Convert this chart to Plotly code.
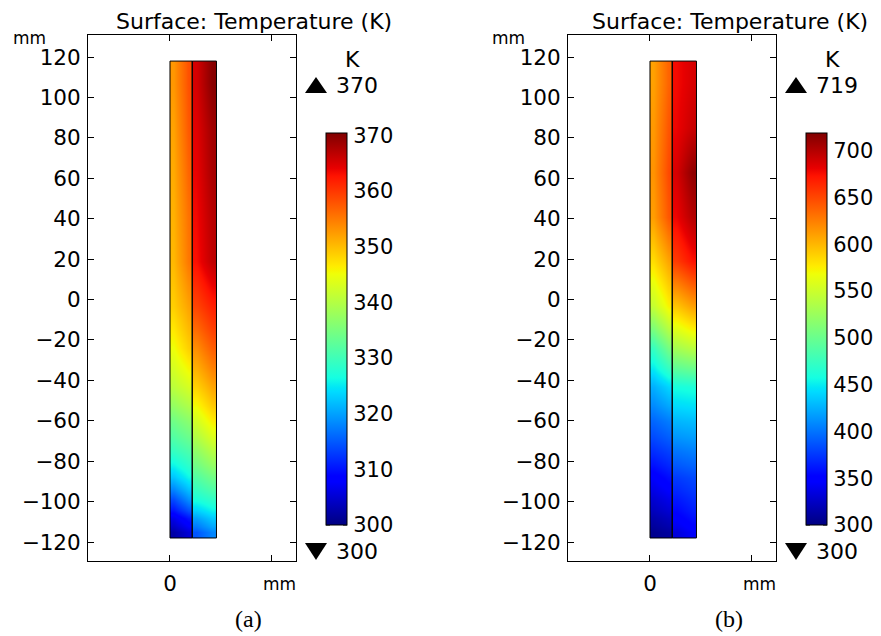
import numpy as np
import plotly.graph_objects as go

# ---------------- data ----------------
# geometry of the two strips (mm)
STRIP_X = [0.0, 11.0, 23.0]
STRIP_Y = [-118.0, 118.0]
# vertical cell edges used for the temperature readings (mm), bottom -> top
Y_EDGES = [-118, -112, -104, -94, -82, -68, -52, -34, -14, 8, 30, 52, 74, 96, 118]

# Panel (a) temperatures (K): rows bottom -> top, 3 readings across each strip
T_A_LEFT = [
    [302.3, 303.8, 305.3],
    [306.4, 308.3, 310.1],
    [313.8, 316.3, 318.8],
    [322.4, 324.2, 325.9],
    [329.0, 330.0, 331.0],
    [334.1, 335.3, 336.4],
    [340.6, 341.8, 342.9],
    [344.9, 346.8, 348.6],
    [348.6, 350.3, 352.0],
    [350.3, 352.8, 355.3],
    [350.8, 353.3, 355.7],
    [351.3, 354.0, 356.7],
    [351.9, 354.8, 357.6],
    [352.8, 355.5, 358.2],
]
T_A_RIGHT = [
    [314.7, 316.4, 318.1],
    [319.8, 321.3, 322.8],
    [326.8, 327.7, 328.6],
    [331.6, 333.0, 334.3],
    [336.8, 338.5, 340.2],
    [342.5, 344.4, 346.3],
    [348.4, 350.0, 351.8],
    [353.4, 355.3, 357.1],
    [359.0, 360.4, 361.8],
    [362.9, 364.8, 366.6],
    [363.4, 365.3, 367.1],
    [364.0, 366.0, 368.0],
    [364.5, 366.5, 368.5],
    [365.2, 367.6, 370.0],
]
# Panel (b)
T_B_LEFT = [
    [305.2, 308.1, 310.9],
    [315.5, 319.2, 322.9],
    [329.3, 333.8, 338.2],
    [346.6, 351.8, 357.0],
    [371.0, 375.0, 379.0],
    [394.3, 399.0, 403.7],
    [424.8, 432.8, 440.7],
    [473.8, 490.3, 506.7],
    [546.8, 560.5, 574.2],
    [582.5, 595.5, 608.5],
    [611.1, 627.3, 643.4],
    [615.9, 632.8, 649.6],
    [613.3, 628.8, 644.2],
    [610.0, 624.0, 638.0],
]
T_B_RIGHT = [
    [333.0, 338.9, 344.8],
    [347.6, 352.7, 357.8],
    [361.1, 365.3, 369.5],
    [376.4, 379.2, 382.0],
    [400.1, 402.3, 404.5],
    [427.2, 428.5, 429.8],
    [458.7, 460.0, 461.3],
    [530.1, 535.2, 540.3],
    [594.1, 602.4, 610.6],
    [654.9, 664.0, 673.0],
    [679.2, 689.5, 699.8],
    [687.5, 700.5, 713.5],
    [679.3, 686.0, 692.7],
    [676.7, 682.0, 687.3],
]

RANGE_A = [300.0, 370.4]
RANGE_B = [300.0, 719.0]
MAX_A, MIN_A = "370", "300"
MAX_B, MIN_B = "719", "300"
CB_TICKS_A = [300, 310, 320, 330, 340, 350, 360, 370]
CB_TICKS_B = [300, 350, 400, 450, 500, 550, 600, 650, 700]
Y_TICKS = [-120, -100, -80, -60, -40, -20, 0, 20, 40, 60, 80, 100, 120]
X_TICKS = [0, 50]
X_TICKTEXT = ["0", ""]
TITLE = "Surface: Temperature (K)"
CAPTIONS = ["(a)", "(b)"]

# ---------------- style ----------------
W, H = 881, 636          # browser window
OFF = 8                   # page body margin
FW, FH = W - OFF, H - OFF  # figure size
FONT = "DejaVu Sans"
TICK_SIZE = 21.5
CB_SIZE = 21

def jet_scale():
    red = [(0, 0), (0.35, 0), (0.66, 1), (0.89, 1), (1, 0.5)]
    green = [(0, 0), (0.125, 0), (0.375, 1), (0.64, 1), (0.91, 0), (1, 0)]
    blue = [(0, 0.5), (0.11, 1), (0.34, 1), (0.65, 0), (1, 0)]
    stops = sorted({p for seg in (red, green, blue) for p, _ in seg})
    out = []
    for s in stops:
        c = [np.interp(s, [p for p, _ in seg], [v for _, v in seg]) for seg in (red, green, blue)]
        out.append([s, "rgb(%d,%d,%d)" % tuple(int(round(255 * v)) for v in c)])
    return out

JET = jet_scale()

def px(x):
    return (x - OFF) / FW

def py(y):
    return 1 - (y - OFF) / FH

fig = go.Figure()

panels = [
    ("x", "y", "coloraxis", T_A_LEFT, T_A_RIGHT),
    ("x2", "y2", "coloraxis2", T_B_LEFT, T_B_RIGHT),
]
for xa, ya, ca, tl, tr in panels:
    for i, z in enumerate((tl, tr)):
        xe = np.linspace(STRIP_X[i], STRIP_X[i + 1], len(z[0]) + 1)
        fig.add_trace(go.Heatmap(
            x=xe, y=Y_EDGES, z=z, zsmooth="best", coloraxis=ca,
            xaxis=xa, yaxis=ya, hoverinfo="skip"))
    for i in range(len(STRIP_X) - 1):
        fig.add_shape(type="rect", xref=xa, yref=ya,
                      x0=STRIP_X[i], x1=STRIP_X[i + 1], y0=STRIP_Y[0], y1=STRIP_Y[1],
                      line=dict(color="black", width=1), fillcolor="rgba(0,0,0,0)")

XR = [-40.57, 62.35]
YR = [-129.4, 130.9]
YDOM = [py(561), py(35)]
CB_TOP, CB_BOT, CB_W = 133, 525, 21

def xaxis(dom, anchor):
    return dict(domain=dom, anchor=anchor, range=XR, tickvals=X_TICKS, ticktext=X_TICKTEXT,
                ticks="inside", ticklen=6, tickcolor="black", showline=True, linecolor="black",
                linewidth=1, mirror="ticks", showgrid=False, zeroline=False,
                tickfont=dict(family=FONT, size=TICK_SIZE, color="black"), ticklabelstandoff=3)

def yaxis(anchor):
    return dict(domain=YDOM, anchor=anchor, range=YR, tickvals=Y_TICKS,
                ticktext=[str(v).replace("-", "\u2212") for v in Y_TICKS],
                ticks="inside", ticklen=6, tickcolor="black", showline=True, linecolor="black",
                linewidth=1, mirror="ticks", showgrid=False, zeroline=False,
                tickfont=dict(family=FONT, size=TICK_SIZE, color="black"), ticklabelstandoff=2)

def cbar(xpix, ticks):
    return dict(x=px(xpix), xanchor="left", xpad=0, ypad=0, y=py((CB_TOP + CB_BOT) / 2), yanchor="middle",
                len=CB_BOT - CB_TOP, lenmode="pixels", thickness=CB_W, thicknessmode="pixels",
                outlinewidth=1, outlinecolor="black", ticks="outside", ticklen=2,
                tickcolor="rgba(0,0,0,0)", tickvals=ticks, ticktext=[str(t) for t in ticks],
                tickfont=dict(family=FONT, size=CB_SIZE, color="black"))

fig.update_layout(
    width=FW, height=FH, margin=dict(l=0, r=0, t=0, b=0, pad=0, autoexpand=False),
    paper_bgcolor="white", plot_bgcolor="white", showlegend=False,
    xaxis=xaxis([px(88), px(296)], "y"),
    yaxis=yaxis("x"),
    xaxis2=xaxis([px(568), px(776)], "y2"),
    yaxis2=yaxis("x2"),
    coloraxis=dict(colorscale=JET, cmin=RANGE_A[0], cmax=RANGE_A[1], colorbar=cbar(326, CB_TICKS_A)),
    coloraxis2=dict(colorscale=JET, cmin=RANGE_B[0], cmax=RANGE_B[1], colorbar=cbar(806, CB_TICKS_B)),
)

# small inside tick marks on both edges of each colour bar
for cbx, ticks, rng in [(326, CB_TICKS_A, RANGE_A), (806, CB_TICKS_B, RANGE_B)]:
    for t in ticks:
        yy = CB_BOT - (t - rng[0]) / (rng[1] - rng[0]) * (CB_BOT - CB_TOP)
        for xa0, xa1 in [(cbx, cbx + 4), (cbx + CB_W - 4, cbx + CB_W)]:
            fig.add_shape(type="line", xref="paper", yref="paper",
                          x0=px(xa0), x1=px(xa1), y0=py(yy), y1=py(yy),
                          line=dict(color="black", width=1))

def ann(text, x, y, size, xanchor="center", family=FONT, yanchor="middle"):
    fig.add_annotation(text=text, x=px(x), y=py(y), xref="paper", yref="paper",
                       xanchor=xanchor, yanchor=yanchor, showarrow=False, borderpad=0,
                       font=dict(family=family, size=size, color="black"))

def tri(x0, x1, y0, y1, up=True):
    if up:
        path = "M %f %f L %f %f L %f %f Z" % (px(x0), py(y1), px(x1), py(y1), px((x0 + x1) / 2), py(y0))
    else:
        path = "M %f %f L %f %f L %f %f Z" % (px(x0), py(y0), px(x1), py(y0), px((x0 + x1) / 2), py(y1))
    fig.add_shape(type="path", xref="paper", yref="paper", path=path,
                  fillcolor="black", line=dict(color="black", width=0))

for off, mx, mn, cap, capx in [(0, MAX_A, MIN_A, CAPTIONS[0], 248), (480, MAX_B, MIN_B, CAPTIONS[1], 729)]:
    ann(TITLE, 254 + off - (4 if off else 0), OFF, 22, yanchor="top")
    ann("mm", 29 + off, 38, 17)
    ann("mm", 297 + off, 584, 17, xanchor="right")
    ann("K", 352 + off, 59, 22)
    tri(305 + off, 327 + off, 77, 93, up=True)
    ann(mx, 335 + off, 85, 22, xanchor="left")
    tri(305 + off, 327 + off, 543, 560, up=False)
    ann(mn, 335 + off, 551, 22, xanchor="left")
    ann(cap, capx, 619, 24, family="Liberation Serif")

fig.write_html("out.html")
